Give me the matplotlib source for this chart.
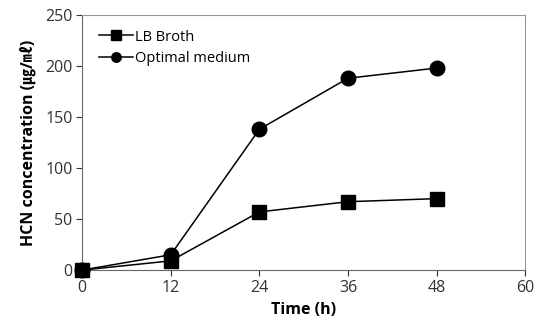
import numpy as np
import matplotlib.pyplot as plt

# data
time_h = [0, 12, 24, 36, 48]
lb_broth = [0, 9, 57, 67, 70]
optimal_medium = [0, 15, 138, 188, 198]

xticks = [0, 12, 24, 36, 48, 60]
yticks = [0, 50, 100, 150, 200, 250]

plt.rcParams['font.family'] = ['Open Sans', 'Noto Sans CJK KR', 'DejaVu Sans']

fig = plt.figure(figsize=(5.37, 3.33), dpi=100)
ax = fig.add_axes([0.153, 0.189, 0.825, 0.766])

ax.plot(time_h, lb_broth, color='black', linewidth=1.1, marker='s',
        markersize=10.5, label='LB Broth', zorder=3)
ax.plot(time_h, optimal_medium, color='black', linewidth=1.1, marker='o',
        markersize=10.5, label='Optimal medium', zorder=3)

ax.set_xlim(0, 60)
ax.set_ylim(0, 250)
ax.set_xticks(xticks)
ax.set_yticks(yticks)
ax.tick_params(labelsize=11.5, colors='#333333', length=4, width=0.8)
ax.tick_params(axis='y', pad=3)

for s in ['top', 'right']:
    ax.spines[s].set_color('#999999')
    ax.spines[s].set_linewidth(0.8)
for s in ['left', 'bottom']:
    ax.spines[s].set_color('#666666')
    ax.spines[s].set_linewidth(0.8)
for m in ax.get_lines():
    m.set_clip_on(False)

ax.set_xlabel('Time (h)', fontsize=11.5, fontweight='bold', labelpad=4)
ax.set_ylabel('HCN concentration (㎍/㎖)', fontsize=11.5, fontweight='bold',
              labelpad=6)

ax.legend(loc='upper left', frameon=False, fontsize=10.5, handlelength=2.3,
          handletextpad=0.15, borderaxespad=0.6, labelspacing=0.45,
          markerscale=0.65, bbox_to_anchor=(0.005, 1.0))

plt.savefig('out.png', dpi=100)
